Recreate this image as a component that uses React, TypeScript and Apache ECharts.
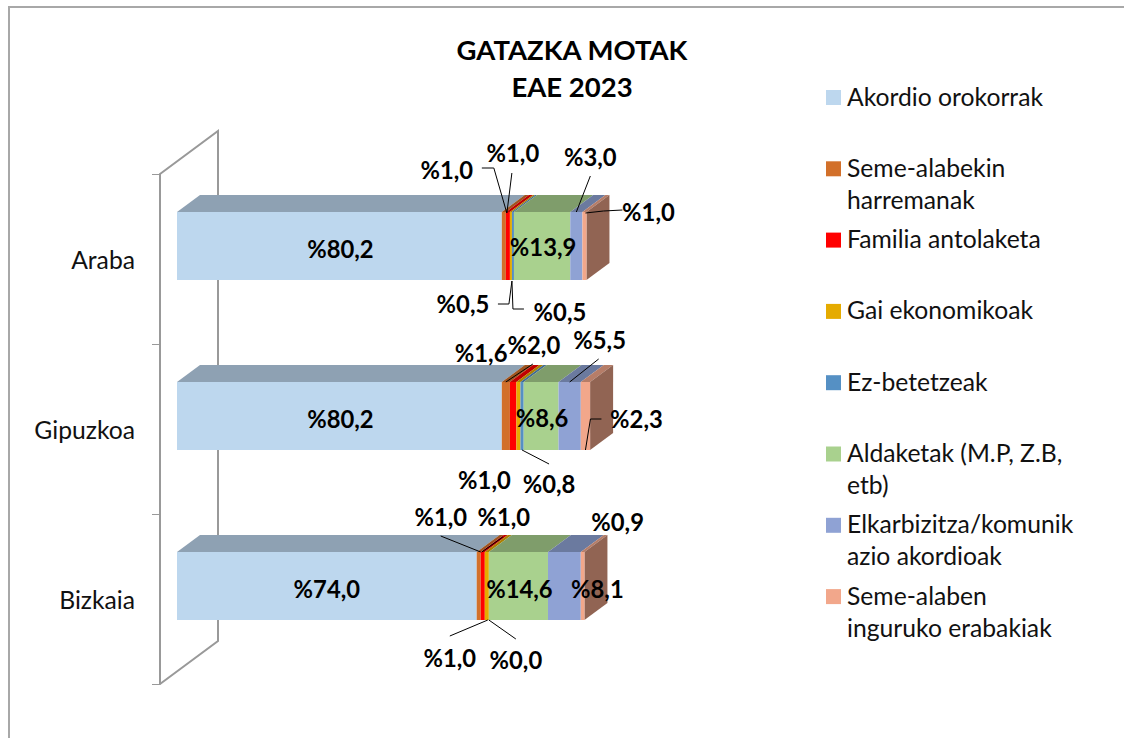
import React, { useEffect, useRef } from "react";
import * as echarts from "echarts";

const categories = ["Araba", "Gipuzkoa", "Bizkaia"];
const titleLines = ["GATAZKA MOTAK", "EAE 2023"];

const seriesNames = [
  "Akordio orokorrak",
  "Seme-alabekin harremanak",
  "Familia antolaketa",
  "Gai ekonomikoak",
  "Ez-betetzeak",
  "Aldaketak (M.P, Z.B, etb)",
  "Elkarbizitza/komunikazio akordioak",
  "Seme-alaben inguruko erabakiak",
];
const legendTexts = [
  "Akordio orokorrak",
  "Seme-alabekin\nharremanak",
  "Familia antolaketa",
  "Gai ekonomikoak",
  "Ez-betetzeak",
  "Aldaketak (M.P, Z.B,\netb)",
  "Elkarbizitza/komunik\nazio akordioak",
  "Seme-alaben\ninguruko erabakiak",
];

const akordioOrokorrak = [80.2, 80.2, 74.0];
const semeAlabekin = [1.0, 2.0, 1.0];
const familiaAntolaketa = [1.0, 1.6, 1.0];
const gaiEkonomikoak = [0.5, 1.0, 1.0];
const ezBetetzeak = [0.5, 0.8, 0.0];
const aldaketak = [13.9, 8.6, 14.6];
const elkarbizitza = [3.0, 5.5, 8.1];
const semeAlaben = [1.0, 2.3, 0.9];

const allValues = [
  akordioOrokorrak,
  semeAlabekin,
  familiaAntolaketa,
  gaiEkonomikoak,
  ezBetetzeak,
  aldaketak,
  elkarbizitza,
  semeAlaben,
];

const colors = ["#BDD7EE", "#D2702A", "#FF0000", "#E5AB00", "#5590C4", "#A9D18E", "#8FA2D4", "#F2A78B"];

// Label placement, relative to the middle of each segment's front face:
// [dx, dy, leader points...] per series, per category.
type Place = { d: number[]; leader?: number[][] };
const labelPlaces: Place[][] = [
  [{ d: [1, 3] }, { d: [1, 3] }, { d: [0, 3] }],
  [
    { d: [-57, -76], leader: [[-22, -78], [-10, -78], [3, -33]] },
    { d: [28, -71], leader: [[27, -52], [0, -34]] },
    { d: [-38, -69], leader: [[-38, -50], [2, -34]] },
  ],
  [
    { d: [5, -93], leader: [[4, -73], [-1, -33]] },
    { d: [-32, -63] },
    { d: [21, -69], leader: [[20, -49], [-1, -34]] },
  ],
  [
    { d: [-48, 58], leader: [[-13, 58], [-2, 58], [1, 35]] },
    { d: [-34, 64] },
    { d: [-37, 72], leader: [[-37, 50], [1, 34]] },
  ],
  [
    { d: [47, 66], leader: [[11, 63], [0, 63], [-1, 35]] },
    { d: [27, 68], leader: [[27, 48], [0, 34]] },
    { d: [27, 74], leader: [[27, 53], [0, 34]] },
  ],
  [{ d: [1, 1] }, { d: [1, 2] }, { d: [1, 3] }],
  [
    { d: [14, -89], leader: [[14, -70], [0, -34]] },
    { d: [30, -76], leader: [[29, -57], [0, -34]] },
    { d: [33, 3] },
  ],
  [
    { d: [64, -34], leader: [[38, -36], [19, -35], [1, -33]] },
    { d: [51, 3], leader: [[16, 3], [5, 3], [0, 34]] },
    { d: [35, -64] },
  ],
];

const FONT = "Lato, Carlito, Calibri, sans-serif";
const OFFSET_X = 17;
const OFFSET_Y = -13;
const BAR_H = 68;
const DEPTH_X = 23;
const DEPTH_Y = 17;

function shade(hex: string, f: number) {
  const n = parseInt(hex.slice(1), 16);
  const c = [(n >> 16) & 255, (n >> 8) & 255, n & 255].map((v) => Math.round(v * f));
  return `rgb(${c[0]},${c[1]},${c[2]})`;
}

function startOf(s: number, c: number) {
  let t = 0;
  for (let i = 0; i < s; i++) t += allValues[i][c];
  return t;
}

function fmt(v: number) {
  return "%" + v.toFixed(1).replace(".", ",");
}

export default function App() {
  const ref = useRef<HTMLDivElement>(null);
  useEffect(() => {
    if (!ref.current) return;
    const chart = echarts.init(ref.current, undefined, { renderer: "svg" });

    const boxSeries = seriesNames.map((name, s) => ({
      type: "custom",
      name,
      z: 2,
      silent: true,
      data: allValues[s].map((v, c) => [v, c]),
      encode: { x: 0, y: 1 },
      renderItem: (params: any, api: any) => {
        const c = params.dataIndex;
        const v = api.value(0);
        const b = startOf(s, c);
        const p0 = api.coord([b, c]);
        const p1 = api.coord([b + v, c]);
        const x0 = p0[0] + OFFSET_X;
        const x1 = p1[0] + OFFSET_X;
        const top = p0[1] + OFFSET_Y - BAR_H / 2;
        const bot = top + BAR_H;
        const children: any[] = [];
        if (v > 0) {
          children.push({
            type: "polygon",
            shape: { points: [[x0, top], [x1, top], [x1 + DEPTH_X, top - DEPTH_Y], [x0 + DEPTH_X, top - DEPTH_Y]] },
            style: { fill: shade(colors[s], 0.75) },
          });
          if (s === seriesNames.length - 1) {
            children.push({
              type: "polygon",
              shape: { points: [[x1, top], [x1 + DEPTH_X, top - DEPTH_Y], [x1 + DEPTH_X, bot - DEPTH_Y], [x1, bot]] },
              style: { fill: shade(colors[s], 0.6) },
            });
          }
          children.push({
            type: "polygon",
            shape: { points: [[x0, top], [x1, top], [x1, bot], [x0, bot]] },
            style: { fill: colors[s] },
          });
        }
        return { type: "group", children };
      },
    }));

    const labelData: number[][] = [];
    seriesNames.forEach((_, s) => categories.forEach((__, c) => labelData.push([s, c])));

    const labelSeries = {
      type: "custom",
      name: "etiketak",
      z: 5,
      silent: true,
      data: labelData,
      renderItem: (_: any, api: any) => {
        const s = api.value(0);
        const c = api.value(1);
        const v = allValues[s][c];
        const b = startOf(s, c);
        const pt = api.coord([b + v / 2, c]);
        const ax = pt[0] + OFFSET_X;
        const ay = pt[1] + OFFSET_Y;
        const place = labelPlaces[s][c];
        const children: any[] = [];
        if (place.leader) {
          children.push({
            type: "polyline",
            shape: { points: place.leader.map((q) => [ax + q[0], ay + q[1]]) },
            style: { stroke: "#000", lineWidth: 1, fill: "none" },
          });
        }
        children.push({
          type: "text",
          x: ax + place.d[0],
          y: ay + place.d[1],
          style: {
            text: fmt(v),
            align: "center",
            verticalAlign: "middle",
            fill: "#000",
            fontFamily: FONT,
            fontWeight: "bold",
            fontSize: 23.8,
          },
        });
        return { type: "group", children };
      },
    };

    const legendGraphics: any[] = [];
    legendTexts.forEach((t, i) => {
      const yc = 97.5 + i * 71.3;
      legendGraphics.push({
        type: "rect",
        shape: { x: 826, y: yc - 7.5, width: 15, height: 15 },
        style: { fill: colors[i] },
      });
      legendGraphics.push({
        type: "text",
        x: 847,
        y: yc - 17.5,
        style: {
          text: t,
          fontFamily: FONT,
          fontSize: 24.7,
          lineHeight: 32,
          fill: "#111",
          verticalAlign: "top",
          align: "left",
        },
      });
    });

    chart.setOption({
      animation: false,
      backgroundColor: "#fff",
      title: {
        text: titleLines.join("\n"),
        left: 567,
        top: 26,
        textAlign: "center",
        textStyle: { fontFamily: FONT, fontWeight: "bold", fontSize: 27.5, lineHeight: 37, color: "#000" },
      },
      grid: { left: 160, top: 174, width: 405, height: 510, containLabel: false },
      xAxis: { type: "value", min: 0, max: 100, show: false },
      yAxis: {
        type: "category",
        inverse: true,
        data: categories,
        axisLine: { show: true, lineStyle: { color: "#999999", width: 2 } },
        axisTick: { show: true, length: 8, lineStyle: { color: "#999999", width: 1 } },
        axisLabel: { fontFamily: FONT, fontSize: 24.7, color: "#111", margin: 25 },
      },
      graphic: [
        {
          type: "polyline",
          z: 0,
          shape: { points: [[9, 738], [9, 7], [1124, 7]] },
          style: { stroke: "#A8A8A8", lineWidth: 2, fill: "none" },
        },
        {
          type: "polyline",
          z: 0,
          shape: { points: [[160, 174], [218, 131], [218, 641], [160, 684]] },
          style: { stroke: "#999999", lineWidth: 2, fill: "none" },
        },
        ...legendGraphics,
      ],
      series: [...boxSeries, labelSeries],
    });
    return () => chart.dispose();
  }, []);
  return <div ref={ref} style={{ position: "fixed", left: 0, top: 0, width: 1124, height: 738 }} />;
}
